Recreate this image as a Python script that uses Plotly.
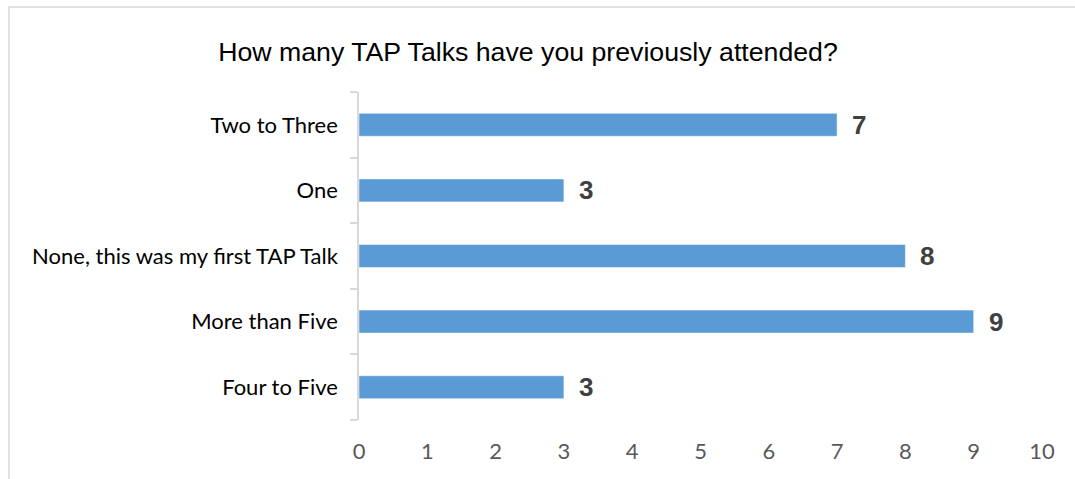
import plotly.graph_objects as go

categories = ["Two to Three", "One", "None, this was my first TAP Talk", "More than Five", "Four to Five"]
values = [7, 3, 8, 9, 3]
x_ticks = [0, 1, 2, 3, 4, 5, 6, 7, 8, 9, 10]
title_text = "How many TAP Talks have you previously attended?"

W, H = 1075, 479
L, R, T, B = 359, 33, 92, 59

fig = go.Figure()
fig.add_trace(go.Bar(
    x=values, y=categories, orientation="h",
    marker=dict(color="#5B9BD5", line=dict(color="#ffffff", width=0.5)),
    hoverinfo="x+y", showlegend=False,
))

for v, c in zip(values, categories):
    fig.add_annotation(x=v, y=c, text="<b>%d</b>" % v, showarrow=False,
                       xanchor="left", yanchor="middle", xshift=13,
                       font=dict(family="Liberation Sans, Arial", size=26, color="#404040"))

pw = W - L - R
ph = H - T - B
fig.add_shape(type="rect", xref="paper", yref="paper",
              x0=(9 - L) / pw, x1=(W + 20 - L) / pw,
              y0=(H - B - (H + 20)) / ph, y1=(H - B - 7) / ph,
              line=dict(color="#d9d9d9", width=1.5), fillcolor="rgba(0,0,0,0)", layer="below")

fig.update_layout(
    width=W, height=H,
    margin=dict(l=L, r=R, t=T, b=B, pad=0),
    paper_bgcolor="white", plot_bgcolor="white",
    bargap=0.65,
    title=dict(text=title_text, x=528 / W, xref="container", xanchor="center",
               y=1 - 52 / H, yref="container", yanchor="middle",
               font=dict(family="Liberation Sans, Arial", size=26.7, color="#000000")),
    xaxis=dict(range=[0, 10], tickvals=x_ticks, showgrid=False, zeroline=False,
               showline=False, ticks="outside", ticklen=12, tickcolor="rgba(0,0,0,0)",
               tickfont=dict(family="Lato", size=22, color="#595959"), fixedrange=True),
    yaxis=dict(categoryorder="array", categoryarray=categories[::-1],
               showgrid=False, zeroline=False, showline=True, linecolor="#d9d9d9", linewidth=1.5,
               ticks="outside", tickson="boundaries", ticklen=7, tickcolor="#d9d9d9", tickwidth=1.5,
               ticklabelstandoff=15,
               tickfont=dict(family="Lato", size=22, color="#000000"), fixedrange=True),
)

fig.write_html("out.html")
